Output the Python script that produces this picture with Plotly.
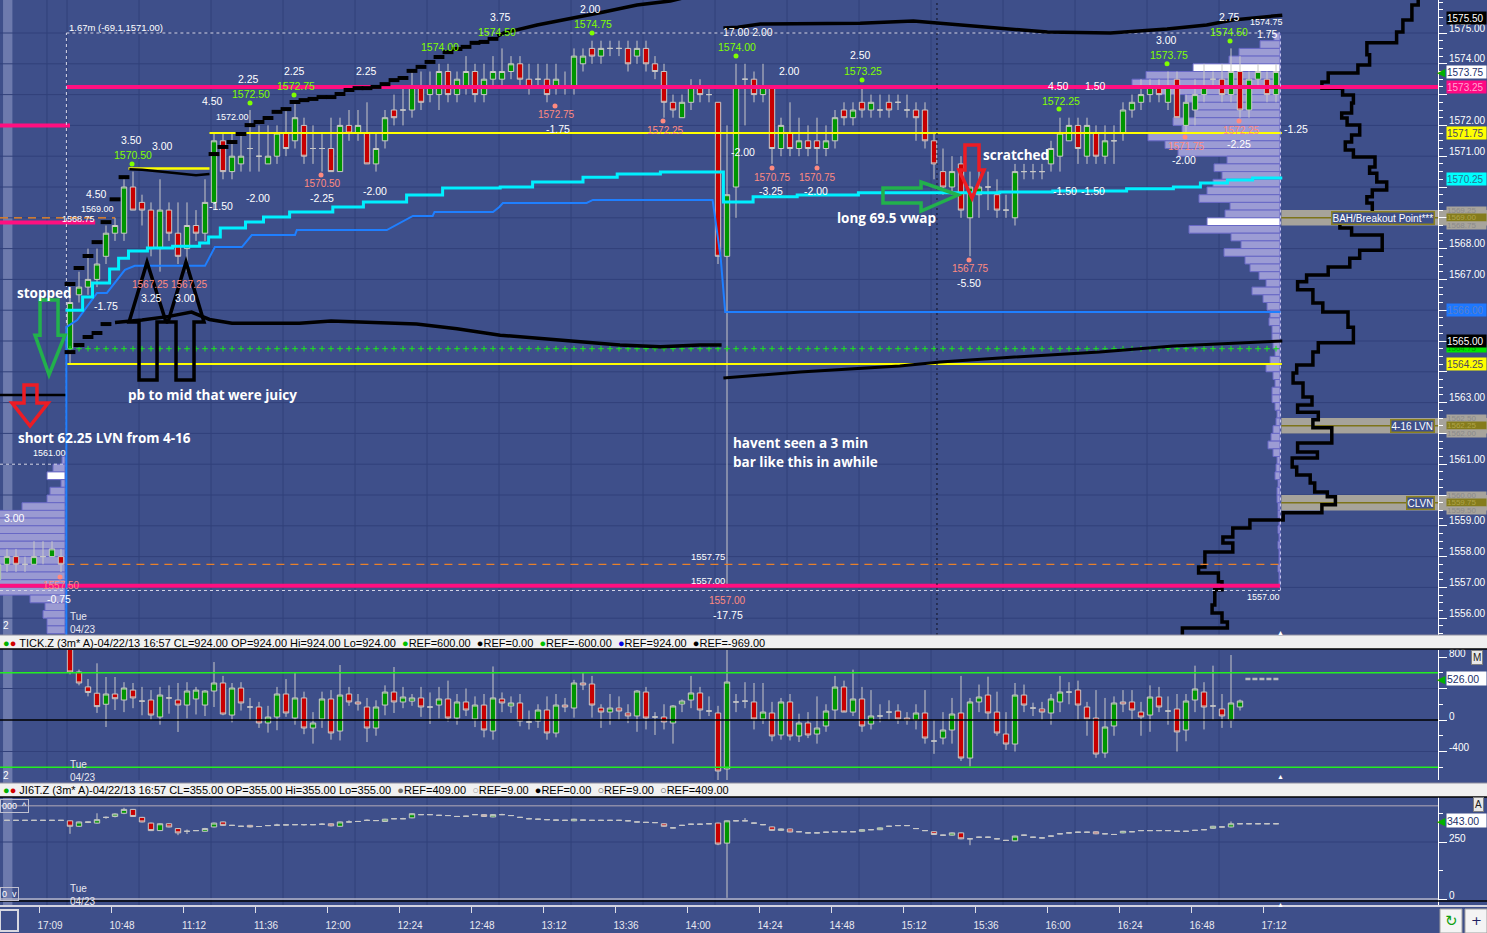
import plotly.graph_objects as go

# ============================ DATA ============================
# --- ES 3-min bars: tail of previous session (negative index) + today's session
prev_idx   = [-8, -7, -6, -5, -4, -3, -2, -1]
prev_open  = [1557.25, 1557.75, 1558.0, 1557.75, 1557.75, 1558.0, 1558.0, 1558.0]
prev_high  = [1557.75, 1558.25, 1558.25, 1558.0, 1558.5, 1558.5, 1558.5, 1558.25]
prev_low   = [1557.0, 1557.5, 1557.5, 1557.5, 1557.75, 1557.75, 1558.0, 1557.5]
prev_close = [1557.75, 1558.0, 1557.75, 1557.75, 1558.0, 1558.0, 1558.25, 1557.75]

es_open = [1564.75, 1566.5, 1566.75, 1567.0, 1567.75, 1568.5, 1568.5, 1570.0, 1569.5, 1569.25,
           1568.0, 1569.25, 1568.5, 1568.0, 1568.75, 1568.5, 1569.5, 1571.5, 1570.5, 1570.75,
           1571.25, 1571.0, 1570.75, 1571.0, 1571.75, 1571.5, 1572.0, 1571.25, 1571.25, 1571.25,
           1570.5, 1572.0, 1571.75, 1571.75, 1570.75, 1571.5, 1572.5, 1572.5, 1572.5, 1573.25,
           1573.0, 1573.0, 1573.75, 1573.0, 1573.25, 1573.75, 1573.0, 1573.5, 1573.5, 1573.75,
           1574.0, 1573.5, 1573.5, 1573.5, 1573.25, 1573.25, 1573.25, 1574.0, 1574.5, 1574.25,
           1574.5, 1574.5, 1574.5, 1574.25, 1574.5, 1574.0, 1573.75, 1572.75, 1572.25, 1572.75,
           1573.25, 1573.0, 1572.75, 1567.75, 1570.0, 1573.5, 1573.5, 1573.0, 1573.25, 1571.25,
           1571.75, 1571.25, 1571.5, 1571.5, 1571.25, 1571.5, 1572.5, 1572.25, 1572.75, 1572.5,
           1572.5, 1572.75, 1572.75, 1572.5, 1572.5, 1572.5, 1571.5, 1570.5, 1570.0, 1570.75,
           1569.0, 1569.75, 1570.0, 1569.75, 1569.25, 1569.0, 1570.5, 1570.5, 1570.5, 1570.75,
           1571.0, 1571.5, 1572.0, 1571.0, 1571.75, 1571.0, 1571.5, 1571.75, 1572.5, 1572.75,
           1573.0, 1573.25, 1572.75, 1573.5, 1572.0, 1572.5, 1573.0, 1573.5, 1573.5, 1573.0,
           1573.75, 1572.5, 1573.5, 1573.5, 1573.0]
es_high = [1566.5, 1567.25, 1568.0, 1568.0, 1568.75, 1569.0, 1570.25, 1570.5, 1569.75, 1569.5,
           1570.25, 1569.5, 1569.5, 1569.5, 1569.25, 1570.25, 1571.75, 1571.75, 1571.75, 1571.75,
           1572.5, 1572.0, 1572.0, 1572.0, 1572.5, 1572.75, 1572.25, 1572.0, 1571.75, 1572.25,
           1572.25, 1572.5, 1572.5, 1572.75, 1571.75, 1572.5, 1573.0, 1573.25, 1573.75, 1573.75,
           1573.75, 1574.0, 1574.0, 1573.75, 1574.25, 1574.0, 1574.0, 1574.25, 1574.5, 1574.25,
           1574.25, 1574.0, 1574.0, 1574.0, 1574.0, 1573.75, 1574.5, 1574.5, 1574.75, 1574.75,
           1574.75, 1574.75, 1574.75, 1574.75, 1574.75, 1574.25, 1574.0, 1573.0, 1573.0, 1573.5,
           1573.5, 1573.25, 1572.75, 1572.0, 1574.0, 1574.0, 1573.75, 1574.0, 1573.25, 1572.25,
           1572.75, 1572.25, 1572.0, 1572.25, 1572.0, 1572.5, 1572.75, 1572.75, 1573.25, 1573.0,
           1573.0, 1573.0, 1573.0, 1573.0, 1572.75, 1572.75, 1571.75, 1571.25, 1571.0, 1571.0,
           1570.5, 1571.25, 1570.5, 1570.25, 1569.75, 1570.75, 1570.75, 1570.75, 1570.75, 1571.5,
           1572.25, 1572.25, 1572.25, 1572.25, 1572.0, 1572.0, 1572.0, 1572.75, 1573.0, 1573.5,
           1573.5, 1573.5, 1573.75, 1573.75, 1573.0, 1573.5, 1574.0, 1573.75, 1574.0, 1574.5,
           1574.25, 1573.75, 1574.0, 1573.75, 1574.0]
es_low = [1564.25, 1566.25, 1566.5, 1566.75, 1567.5, 1568.25, 1568.25, 1569.25, 1568.75, 1567.75,
          1567.25, 1568.25, 1567.5, 1567.25, 1568.25, 1568.25, 1569.25, 1570.25, 1570.25, 1570.5,
          1570.5, 1570.5, 1570.75, 1570.75, 1571.0, 1571.25, 1570.75, 1570.75, 1570.5, 1570.5,
          1570.5, 1571.5, 1571.5, 1570.75, 1570.5, 1571.25, 1572.0, 1572.0, 1572.25, 1572.5,
          1572.75, 1572.5, 1572.75, 1572.75, 1573.0, 1572.75, 1572.75, 1573.25, 1573.25, 1573.5,
          1573.25, 1573.0, 1573.25, 1572.75, 1573.0, 1573.0, 1573.0, 1573.75, 1574.0, 1574.0,
          1574.25, 1574.25, 1573.75, 1574.0, 1573.75, 1573.5, 1572.25, 1572.25, 1572.25, 1572.5,
          1572.75, 1572.75, 1567.5, 1557.0, 1569.0, 1572.0, 1572.75, 1572.75, 1570.75, 1571.0,
          1571.0, 1571.0, 1571.0, 1570.75, 1571.0, 1571.25, 1572.0, 1572.0, 1572.25, 1572.25,
          1572.25, 1572.25, 1572.5, 1572.25, 1571.5, 1571.25, 1570.25, 1569.75, 1569.75, 1569.0,
          1567.75, 1569.0, 1569.25, 1569.0, 1569.0, 1568.75, 1570.25, 1570.25, 1570.25, 1570.5,
          1570.5, 1571.5, 1570.75, 1570.75, 1570.75, 1570.75, 1570.75, 1571.5, 1572.25, 1572.5,
          1572.75, 1572.75, 1572.5, 1572.25, 1571.75, 1572.0, 1572.75, 1573.25, 1572.75, 1572.75,
          1572.25, 1572.25, 1573.25, 1572.75, 1572.75]
es_close = [1566.25, 1566.75, 1567.0, 1567.5, 1568.5, 1568.75, 1570.0, 1569.25, 1569.25, 1568.0,
            1569.25, 1568.5, 1567.75, 1568.75, 1568.5, 1569.5, 1571.5, 1570.5, 1571.0, 1571.0,
            1571.25, 1571.0, 1571.0, 1571.75, 1571.25, 1572.25, 1571.0, 1571.25, 1571.25, 1570.5,
            1572.0, 1571.75, 1572.0, 1570.75, 1571.25, 1572.25, 1572.25, 1572.5, 1573.25, 1572.75,
            1573.25, 1573.75, 1573.0, 1573.5, 1573.75, 1573.0, 1573.5, 1573.75, 1573.75, 1574.0,
            1573.5, 1573.25, 1573.5, 1573.0, 1573.5, 1573.25, 1574.25, 1574.25, 1574.25, 1574.5,
            1574.5, 1574.5, 1574.0, 1574.5, 1574.0, 1573.75, 1572.75, 1572.5, 1572.75, 1573.25,
            1573.0, 1573.0, 1567.75, 1569.75, 1573.25, 1573.5, 1573.0, 1573.25, 1571.25, 1572.0,
            1571.25, 1571.5, 1571.25, 1571.25, 1571.5, 1572.25, 1572.25, 1572.5, 1572.5, 1572.75,
            1572.5, 1572.5, 1572.75, 1572.5, 1572.25, 1571.5, 1570.75, 1570.0, 1570.5, 1569.25,
            1570.0, 1570.0, 1570.0, 1569.25, 1569.25, 1570.5, 1570.5, 1570.5, 1570.5, 1571.25,
            1571.75, 1572.0, 1571.25, 1572.0, 1571.0, 1571.5, 1571.5, 1572.5, 1572.75, 1573.0,
            1573.25, 1573.0, 1573.25, 1572.25, 1572.75, 1573.0, 1573.25, 1573.5, 1573.0, 1573.75,
            1572.5, 1573.5, 1573.75, 1573.0, 1573.75]

# --- NYSE TICK 3-min bars
tick_open = [900, 610, 420, 340, 200, 330, 254, 380, 240, 254,
             38, 280, 254, 190, 267, 190, 368, 470, 63, 406,
             165, 165, -38, 38, 330, 25, 280, -102, 13, 267,
             -140, 330, 229, 165, -102, 190, 355, 229, 240, 280,
             165, 190, 267, 25, 229, 13, 190, -140, 267, 178,
             216, -25, -13, 127, -165, 190, 152, 470, 457, 152,
             101, 152, 89, 51, 355, 38, 38, -38, 203, 254,
             343, 114, 89, -622, 229, 240, 229, 13, 89, -190,
             229, -203, -38, -178, -76, 127, 419, 101, 267, -51,
             51, 101, 114, 25, 0, 89, -267, -229, -127, 89,
             -483, 229, 317, 101, -178, -305, 317, 152, 140, 89,
             229, 355, 381, 165, 25, -419, -76, 229, 229, 101,
             63, 292, 114, 140, -127, 254, 355, 178, 140, 0,
             165]
tick_high = [950, 640, 520, 720, 546, 546, 480, 470, 420, 380,
             420, 440, 470, 480, 420, 380, 736, 560, 470, 480,
             280, 230, 180, 420, 520, 600, 360, 100, 360, 380,
             698, 420, 330, 280, 250, 440, 673, 420, 330, 420,
             350, 420, 500, 330, 400, 300, 330, 680, 350, 300,
             330, 120, 200, 300, 330, 280, 510, 600, 560, 200,
             330, 300, 200, 380, 420, 100, 200, 190, 260, 560,
             420, 300, 180, 900, 330, 480, 470, 470, 230, 280,
             330, 80, 100, 300, 200, 560, 500, 640, 420, 380,
             200, 250, 200, 100, 200, 380, 0, 100, 280, 560,
             280, 450, 550, 360, 100, 470, 450, 220, 230, 330,
             560, 480, 500, 230, 380, 280, 300, 380, 380, 230,
             440, 420, 300, 330, 330, 690, 480, 690, 330, 825,
             260]
tick_low = [580, 440, 300, 90, -89, 127, 100, 150, 60, 0,
            -60, 80, -152, 20, 70, 50, 165, 60, -30, 120,
            0, -100, -160, -130, 40, -60, -180, -300, -100, -250,
            -260, 180, 120, -280, -200, 60, 89, 150, 180, 40,
            -50, 20, -20, -60, 50, -90, -220, -250, 100, 90,
            -80, -120, -100, -250, -220, 100, 30, 380, 30, -100,
            -60, 0, -40, -150, -120, -190, -120, -300, 100, 150,
            0, 50, -900, -800, 100, 150, -120, -50, -270, -250,
            -260, -280, -230, -300, -150, 0, 120, 50, -150, -120,
            -30, 0, -50, -60, -120, -300, -430, -310, -300, -520,
            -590, 100, 0, -200, -380, -400, 100, 50, 0, -60,
            100, 200, 0, -200, -480, -480, -200, 100, 0, -200,
            -150, 100, -60, -400, -270, 100, -120, 0, -100, -100,
            120]
tick_close = [610, 470, 350, 170, 330, 270, 406, 280, 240, 63,
              317, 280, 190, 368, 380, 368, 470, 76, 406, 216,
              165, -38, 38, 330, 89, 280, -102, -38, 267, -165,
              317, 229, 203, -102, 165, 355, 229, 292, 280, 165,
              165, 267, 25, 229, 127, 190, -127, 280, 216, 216,
              -13, -25, 127, -165, 190, 165, 470, 445, 190, 101,
              152, 114, 51, 368, 25, 38, -25, 178, 241, 343,
              127, 114, -648, 482, 229, 240, 13, 101, -203, 229,
              -203, -38, -190, -102, 114, 419, 101, 267, -76, 51,
              51, 101, 13, 0, 89, -229, -267, -127, 76, -483,
              229, 292, 89, -165, -305, 317, 190, 152, 101, 267,
              355, 355, 190, 13, -432, -89, 216, 203, 127, 38,
              292, 165, 114, -152, 241, 394, 165, 178, 51, 216,
              241]

# --- JI6T 3-min bars (previous session tail + today)
ji_prev_idx = [-7, -6, -5, -4, -3, -2, -1]
ji_prev_val = [345, 345, 345, 345, 345, 345, 345]
ji_open = [343, 319, 336, 333, 358, 362, 376, 393, 358, 333,
           300, 330, 309, 297, 300, 297, 316, 338, 323, 319,
           323, 318, 322, 324, 325, 326, 326, 326, 328, 330,
           319, 338, 340, 345, 344, 340, 352, 352, 356, 370,
           370, 367, 366, 362, 363, 370, 370, 360, 370, 366,
           358, 352, 350, 348, 346, 345, 343, 346, 345, 345,
           345, 345, 343, 338, 336, 335, 330, 312, 323, 328,
           328, 330, 333, 245, 343, 343, 333, 326, 316, 301,
           307, 295, 290, 290, 293, 295, 295, 295, 297, 304,
           304, 319, 322, 322, 309, 300, 295, 280, 280, 290,
           264, 271, 271, 264, 257, 255, 280, 271, 268, 276,
           286, 290, 293, 293, 295, 286, 283, 290, 295, 300,
           300, 300, 300, 297, 297, 301, 304, 310, 316, 316,
           330, 330, 330, 330, 330]
ji_high = [345, 340, 340, 376, 362, 376, 400, 395, 360, 335,
           332, 333, 311, 305, 302, 312, 335, 340, 325, 321,
           325, 320, 324, 330, 327, 328, 327, 328, 332, 332,
           340, 345, 342, 349, 346, 352, 354, 356, 376, 372,
           372, 369, 368, 364, 365, 372, 372, 372, 374, 368,
           360, 356, 352, 350, 348, 347, 352, 348, 347, 347,
           347, 347, 345, 340, 338, 337, 332, 314, 325, 330,
           330, 332, 335, 345, 345, 355, 335, 328, 318, 309,
           309, 297, 292, 292, 295, 297, 297, 297, 306, 306,
           314, 321, 324, 324, 311, 302, 297, 282, 292, 292,
           266, 273, 273, 266, 259, 278, 282, 273, 270, 278,
           288, 292, 295, 295, 297, 288, 285, 299, 297, 302,
           302, 302, 302, 299, 299, 303, 306, 321, 318, 340,
           332, 332, 332, 332, 332]
ji_low = [286, 316, 333, 330, 352, 358, 372, 360, 336, 298,
          298, 314, 280, 285, 298, 295, 314, 321, 321, 317,
          314, 316, 320, 320, 323, 324, 322, 324, 326, 318,
          317, 336, 338, 343, 342, 338, 350, 350, 354, 368,
          368, 365, 364, 360, 361, 368, 360, 358, 368, 364,
          356, 350, 348, 346, 344, 343, 341, 344, 343, 343,
          343, 343, 341, 336, 334, 333, 317, 310, 321, 326,
          326, 328, 236, 5, 341, 341, 331, 324, 299, 299,
          292, 293, 288, 288, 291, 293, 293, 293, 295, 302,
          302, 317, 320, 320, 307, 298, 281, 278, 278, 262,
          236, 269, 269, 262, 255, 253, 278, 269, 266, 274,
          284, 288, 291, 291, 284, 284, 281, 288, 293, 298,
          298, 298, 298, 295, 295, 299, 302, 308, 314, 314,
          328, 328, 328, 328, 328]
ji_close = [319, 338, 338, 348, 358, 373, 393, 362, 338, 300,
            330, 316, 290, 297, 300, 309, 333, 323, 323, 319,
            316, 318, 322, 324, 325, 326, 326, 326, 328, 321,
            338, 338, 340, 345, 344, 350, 352, 352, 374, 370,
            370, 367, 366, 362, 363, 370, 362, 370, 370, 366,
            358, 352, 350, 348, 346, 345, 350, 346, 345, 345,
            345, 345, 343, 338, 336, 335, 319, 312, 323, 328,
            328, 330, 241, 343, 343, 343, 333, 326, 301, 307,
            294, 295, 290, 290, 293, 295, 295, 295, 304, 304,
            312, 319, 322, 322, 309, 300, 283, 280, 290, 264,
            264, 271, 271, 264, 257, 276, 280, 271, 268, 276,
            286, 290, 293, 293, 286, 286, 283, 297, 295, 300,
            300, 300, 300, 297, 297, 301, 304, 319, 316, 330,
            330, 330, 330, 330, 330]

# --- indicator lines (bar index, price)
vwap_x = [-0.5, 1.4, 2.5, 4.4, 5.4, 6.5, 8.6, 11.4, 14.4, 15.4, 16.7, 19.5, 21.5, 24.4, 29.2, 32.6,
          37.4, 41.4, 47.8, 51.4, 57.0, 60.8, 65.6, 72.6, 75.9, 80.8, 87.6, 103.3, 109.2, 117.4,
          122.6, 125.6, 128.6, 131.4, 134.7]
vwap_y = [1566.0, 1566.43, 1566.88, 1567.34, 1567.69, 1567.92, 1568.02, 1568.08, 1568.18, 1568.38,
          1568.67, 1568.86, 1569.03, 1569.19, 1569.35, 1569.51, 1569.74, 1569.97, 1570.0, 1570.16,
          1570.32, 1570.42, 1570.49, 1569.51, 1569.68, 1569.74, 1569.81, 1569.84, 1569.87, 1569.94,
          1570.0, 1570.13, 1570.23, 1570.29, 1570.29]
lowband_x = [-0.4, -0.4, 0.8, 3.0, 4.1, 6.1, 7.2, 15.0, 16.1, 19.1, 20.2, 25.0, 25.2, 35.2, 38.1,
             40.3, 40.5, 47.0, 47.7, 48.1, 57.4, 58.1, 71.4, 72.3, 72.8, 134.5]
lowband_y = [1555.4, 1565.45, 1565.68, 1566.56, 1566.56, 1567.31, 1567.44, 1567.44, 1568.05, 1568.05,
             1568.44, 1568.44, 1568.6, 1568.6, 1569.06, 1569.06, 1569.19, 1569.19, 1569.35, 1569.48,
             1569.48, 1569.58, 1569.58, 1567.7, 1565.94, 1565.94]
# upper band: per-bar dashes early in the session, flat stretch, then smooth curve
upper_dash_x = [0, 1, 2, 3, 4, 5, 6, 16, 17, 18, 19, 20, 21, 22, 23, 24, 25, 26, 27, 28, 29, 30, 31,
                32, 33, 34, 35, 36, 37, 38, 39, 40, 41, 42, 43, 44, 45, 46, 47]
upper_dash_y = [1566.85, 1567.37, 1567.76, 1568.21, 1568.86, 1569.6, 1570.32, 1571.07, 1571.3,
                1571.46, 1571.72, 1572.01, 1572.11, 1572.24, 1572.44, 1572.53, 1572.76, 1572.82,
                1572.86, 1572.92, 1572.92, 1573.02, 1573.15, 1573.21, 1573.21, 1573.25, 1573.34,
                1573.47, 1573.54, 1573.77, 1573.9, 1574.06, 1574.22, 1574.38, 1574.48, 1574.55,
                1574.68, 1574.71, 1574.81]
upper_flat_x = [6.6, 8, 10, 12, 14, 15.5]
upper_flat_y = [1570.58, 1570.56, 1570.5, 1570.45, 1570.38, 1570.42]
upper_curve_x = [47.5, 48.2, 51.9, 55.4, 59.3, 63.0, 66.7, 69.0]
upper_curve_y = [1574.9, 1575.0, 1575.26, 1575.45, 1575.68, 1575.91, 1576.04, 1576.2]
upper2_x = [72.6, 74.2, 76.7, 82.6, 87.8, 93.7, 96.7, 99.7, 103.3, 108.6, 115.6, 121.9, 126.3, 129.2, 134.7]
upper2_y = [1575.16, 1575.19, 1575.29, 1575.32, 1575.32, 1575.39, 1575.32, 1575.23, 1575.16, 1575.03,
            1575.0, 1575.13, 1575.26, 1575.42, 1575.58]
lower_dash_x = [0, 1, 2, 3, 4]
lower_dash_y = [1564.64, 1564.87, 1565.13, 1565.26, 1565.55]
lower_x = [5, 6, 8, 11, 13.5, 15.5, 18, 25.5, 29, 38.5, 43, 47.8, 54.4, 61.1, 65.6, 70, 72.4]
lower_y = [1565.6, 1565.62, 1565.68, 1565.8, 1565.94, 1565.7, 1565.58, 1565.58, 1565.65, 1565.55,
           1565.4, 1565.19, 1565.03, 1564.87, 1564.81, 1564.87, 1564.87]
lower2_x = [72.6, 81.1, 92.2, 96.7, 103.3, 114.4, 122.6, 129.2, 134.7]
lower2_y = [1563.8, 1563.99, 1564.19, 1564.32, 1564.45, 1564.64, 1564.84, 1564.94, 1565.0]

# --- today's volume profile (row = price .. price+0.25)
prof_price = [1574.75, 1574.5, 1574.25, 1574.0, 1573.75, 1573.5, 1573.25, 1573.0, 1572.75, 1572.5,
              1572.25, 1572.0, 1571.75, 1571.5, 1571.25, 1571.0, 1570.75, 1570.5, 1570.25, 1570.0,
              1569.75, 1569.5, 1569.25, 1569.0, 1568.75, 1568.5, 1568.25, 1568.0, 1567.75, 1567.5,
              1567.25, 1567.0, 1566.75, 1566.5, 1566.25, 1566.0, 1565.75, 1565.5, 1565.25, 1565.0,
              1564.75, 1564.5, 1564.25, 1564.0, 1563.75, 1563.5, 1563.25, 1563.0, 1562.75, 1562.5,
              1562.25, 1562.0, 1561.75, 1561.5, 1561.25, 1561.0, 1560.75, 1560.5, 1560.25, 1560.0,
              1559.75, 1559.5, 1559.25, 1559.0, 1558.75, 1558.5, 1558.25, 1558.0, 1557.75, 1557.5,
              1557.25, 1557.0]
prof_vol = [6, 20, 41, 51, 87, 134, 148, 120, 95, 87, 85, 107, 98, 132, 115, 102, 53, 66, 58, 67,
            73, 81, 50, 55, 73, 91, 49, 39, 56, 35, 30, 21, 14, 28, 17, 13, 10, 11, 8, 8,
            7, 5, 10, 14, 7, 5, 8, 8, 5, 3, 4, 7, 9, 12, 7, 3, 4, 5, 2, 3,
            3, 2, 2, 1, 2, 1, 2, 1, 1, 2, 1, 1]
prof_white = [1573.75, 1568.75]
# previous session profile
prev_prof_price = [1561.0, 1560.75, 1560.5, 1560.25, 1560.0, 1559.75, 1559.5, 1559.25, 1559.0, 1558.75,
                   1558.5, 1558.25, 1558.0, 1557.75, 1557.5, 1557.25, 1557.0, 1556.75, 1556.5, 1556.25,
                   1556.0, 1555.75, 1555.5]
prev_prof_vol = [3, 12, 18, 4, 15, 18, 43, 90, 95, 100, 105, 100, 110, 105, 100, 95, 90, 85, 35, 20, 22, 18, 18]
prev_prof_white = [1560.5]

# --- composite profile outline (price edges, x position of each step)
comp_edges = [1576.2, 1575.91, 1575.42, 1575.03, 1574.68, 1574.29, 1573.96, 1573.70, 1573.41, 1573.21,
              1572.99, 1572.73, 1572.40, 1572.24, 1572.01, 1571.69, 1571.46, 1571.20, 1570.97, 1570.65,
              1570.45, 1570.16, 1569.90, 1569.68, 1569.48, 1569.16, 1568.67, 1568.44, 1567.95, 1567.69,
              1567.40, 1567.14, 1566.92, 1566.66, 1566.23, 1565.94, 1565.45, 1564.94, 1564.64, 1564.22,
              1563.96, 1563.64, 1563.18, 1562.92, 1562.69, 1562.44, 1562.18, 1561.69, 1561.40, 1561.20,
              1560.91, 1560.65, 1560.39, 1560.10, 1559.94, 1559.68, 1559.42, 1559.19, 1558.93, 1558.64,
              1558.44, 1558.15, 1557.66, 1557.47, 1557.18, 1556.92, 1556.43, 1556.17, 1555.88, 1555.68,
              1555.3]
comp_x = [149.8, 149.1, 148.1, 147.4, 144.1, 144.4, 143.1, 139.8, 139.1, 141.4,
          142.6, 142.4, 141.3, 141.9, 143.3, 142.4, 141.7, 142.6, 145.0, 144.4,
          145.2, 146.3, 144.7, 144.1, 144.7, 141.1, 142.4, 145.8, 143.3, 142.2,
          139.8, 137.4, 136.4, 138.1, 139.2, 142.0, 142.6, 138.7, 138.1, 136.3,
          135.9, 137.0, 138.0, 136.4, 138.7, 138.1, 140.2, 136.4, 138.6, 135.8,
          136.3, 137.8, 138.3, 139.7, 140.6, 139.1, 134.8, 131.1, 129.2, 128.1,
          129.2, 126.1, 125.4, 127.6, 128.0, 127.2, 126.9, 128.0, 128.6, 123.6]

# --- reference price levels
lvl_magenta = 1573.25
lvl_magenta_prev = [1572.0, 1568.85]
lvl_magenta_low = 1557.05
lvl_yellow = [1571.75, 1564.25]
lvl_yellow_short = 1570.6
lvl_open = 1564.75
lvl_orange = [1569.0, 1557.75]
lvl_dash_white = [1575.0, 1556.9]
lvl_prev_black = 1563.25
lvl_prev_1561 = 1561.0
zones = [("BAH/Breakout Point***", 1568.75, 1569.25), ("4-16 LVN", 1562.0, 1562.5), ("CLVN", 1559.5, 1560.0)]

tick_refs = [600, 0, -600]
ji_refs = [409, 0]

# --- axis labels
price_ticks = [1556, 1557, 1558, 1559, 1560, 1561, 1562, 1563, 1564, 1565, 1566, 1567, 1568, 1569,
               1570, 1571, 1572, 1573, 1574, 1575]
price_ticks_hidden = [1573, 1570, 1569, 1566, 1565, 1564, 1562, 1560]   # covered by value boxes
time_labels = ["17:09", "10:48", "11:12", "11:36", "12:00", "12:24", "12:48", "13:12", "13:36",
               "14:00", "14:24", "14:48", "15:12", "15:36", "16:00", "16:24", "16:48", "17:12"]
time_ticks = [-3.44, 4.56, 12.56, 20.56, 28.56, 36.56, 44.56, 52.56, 60.56, 68.56, 76.56, 84.56,
              92.56, 100.56, 108.56, 116.56, 124.56, 132.56]
grid_bars = [-2.56, -0.33, 7.67, 15.67, 23.67, 31.67, 39.67, 47.67, 55.67, 63.67, 71.67, 79.67,
             87.67, 95.67, 103.67, 111.67, 119.67, 127.67]

# right-axis value boxes (price, background, text colour, compact)
axis_boxes = [(1575.50, '#000000', '#ffffff', False), (1573.75, '#ffffff', '#22306a', False),
              (1573.25, '#ff0a84', '#ffa3d1', False), (1571.75, '#ffff00', '#4a4a60', False),
              (1570.25, '#00ffff', '#2a6f90', False), (1569.25, '#a8a49c', '#8a8a8a', True),
              (1569.00, '#857c1c', '#b0a448', True), (1568.75, '#a8a49c', '#8a8a8a', True),
              (1566.00, '#1e78ff', '#5a80c8', False), (1564.75, '#00e600', '#00a000', True),
              (1565.00, '#000000', '#ffffff', False), (1564.25, '#ffff00', '#4a4a60', False),
              (1562.50, '#a8a49c', '#8a8a8a', True), (1562.25, '#857c1c', '#b0a448', True),
              (1562.00, '#a8a49c', '#8a8a8a', True), (1560.00, '#a8a49c', '#8a8a8a', True),
              (1559.75, '#857c1c', '#b0a448', True), (1559.50, '#a8a49c', '#8a8a8a', True)]

# text annotations (text, bar, price)
white_labels = [("3.75", 47.78, 1575.52), ("2.00", 57.78, 1575.78), ("4.50", 2.89, 1569.77),
                ("3.50", 6.78, 1571.53), ("3.00", 10.3, 1571.33), ("4.50", 15.78, 1572.79),
                ("2.25", 19.78, 1573.51), ("2.25", 24.89, 1573.77), ("2.25", 32.89, 1573.77),
                ("-1.75", 4.0, 1566.14), ("3.25", 9.11, 1566.40), ("3.00", 12.78, 1566.40),
                ("-1.50", 16.78, 1569.38), ("-2.00", 20.89, 1569.64), ("-2.25", 28.0, 1569.64),
                ("-2.00", 33.89, 1569.87), ("-1.75", 54.22, 1571.88), ("17.00 2.00", 75.33, 1575.03),
                ("-2.00", 74.78, 1571.14), ("2.00", 79.89, 1573.77), ("2.50", 87.78, 1574.29),
                ("-3.25", 77.89, 1569.87), ("-2.00", 82.89, 1569.87), ("-5.50", 99.89, 1566.88),
                ("4.50", 109.78, 1573.28), ("1.50", 113.89, 1573.28), ("3.00", 121.78, 1574.77),
                ("2.75", 128.78, 1575.52), ("1.75", 133.0, 1574.98), ("-1.50", 110.56, 1569.87),
                ("-1.50", 113.67, 1569.87), ("-2.00", 123.78, 1570.88), ("-2.25", 129.89, 1571.40),
                ("-1.25", 136.22, 1571.88), ("-0.75", -1.22, 1556.62), ("-17.75", 73.11, 1556.10),
                ("3.00", -6.22, 1559.26)]
small_labels = [("1572.00", 18.11, 1572.27), ("1569.00", 3.1, 1569.29), ("1568.75", 0.9, 1568.95),
                ("1561.00", -2.33, 1561.37), ("1557.00", 132.56, 1556.69), ("1574.75", 132.9, 1575.36)]
small_labels_right = [("1557.75", 73.0, 1557.99), ("1557.00", 73.0, 1557.24)]
green_labels = [("1570.50", 7.0, 1571.04), ("1572.50", 20.11, 1573.02), ("1572.75", 25.11, 1573.28),
                ("1574.00", 41.11, 1574.55), ("1574.50", 47.44, 1575.03), ("1574.75", 58.11, 1575.29),
                ("1574.00", 74.11, 1574.55), ("1573.25", 88.11, 1573.77), ("1572.25", 110.11, 1572.79),
                ("1573.75", 122.11, 1574.29), ("1574.50", 128.8, 1575.03)]
green_dots_x = [6.89, 20.0, 24.89, 58.0, 74.0, 88.0, 109.89, 121.89, 128.89]
green_dots_y = [1570.75, 1572.73, 1572.99, 1575.0, 1574.25, 1573.47, 1572.53, 1574.0, 1574.74]
salmon_labels = [("1567.25", 8.95, 1566.82), ("1567.25", 13.25, 1566.82), ("1570.50", 28.0, 1570.10),
                 ("1572.75", 54.11, 1572.34), ("1572.25", 66.2, 1571.85), ("1570.75", 78.11, 1570.32),
                 ("1570.75", 83.11, 1570.32), ("1567.75", 100.11, 1567.34), ("1571.75", 124.11, 1571.33),
                 ("1572.25", 130.2, 1571.85), ("1557.50", -0.89, 1557.05), ("1557.00", 73.11, 1556.56)]
salmon_dots_x = [27.89, 53.89, 65.89, 78.0, 83.0, 99.89, 123.89, 129.89, -1.11]
salmon_dots_y = [1570.39, 1572.63, 1572.14, 1570.62, 1570.62, 1567.63, 1571.62, 1572.14, 1557.34]
notes = [("stopped", -2.78, 1566.56, "center"), ("pb to mid that were juicy", 15.78, 1563.25, "center"),
         ("short 62.25 LVN from 4-16", 3.83, 1561.85, "center"), ("havent seen a 3 min", 73.44, 1561.69, "left"),
         ("bar like this in awhile", 73.44, 1561.07, "left"), ("long 69.5 vwap", 90.72, 1569.0, "center"),
         ("scratched", 105.06, 1571.04, "center")]

# ============================ STYLE / LAYOUT ============================
W, H = 1487, 933
BG = '#3e4f8a'
GRID = '#31407a'
FONT = 'Liberation Sans'
GREEN_C = '#009600'
RED_C = '#c80000'
WICK = '#c8c8c8'
X_RANGE = [-70 / 9, (W - 70) / 9]
AXIS_X = (1438 - 70) / 9          # bar coordinate of the right price scale
PROF_RIGHT = (1280 - 70) / 9      # right edge of today's profile
PREV_PROF_RIGHT = (65 - 70) / 9
PX_PER_BAR = 9.0
DASH_HALF = 0.6


def py(pix):
    return 1 - pix / H


PRICE_DOM = [py(635), 1.0]
TICK_DOM = [py(780), py(650)]
JI_DOM = [py(905), py(797)]
PRICE_RANGE = [1575 - 602 / 30.8, 1575 + 33 / 30.8]
TICK_RANGE = [(720 - 780) / 0.07875, (720 - 650) / 0.07875]
JI_RANGE = [(899 - 905) / 0.228, (899 - 797) / 0.228]

fig = go.Figure()


def line(xs, ys, color, width, yaxis='y', dash=None, shape='linear'):
    fig.add_trace(go.Scatter(x=xs, y=ys, mode='lines', yaxis=yaxis, xaxis='x', hoverinfo='skip',
                             line=dict(color=color, width=width, dash=dash, shape=shape), showlegend=False))


def dashes(xs, ys, color, width):
    sx, sy = [], []
    for x, y in zip(xs, ys):
        sx += [x - DASH_HALF, x + DASH_HALF, None]
        sy += [y, y, None]
    line(sx, sy, color, width)


# ---- volume profiles
fig.add_trace(go.Bar(orientation='h', y=[p + 0.125 for p in prof_price],
                     x=[-v / PX_PER_BAR for v in prof_vol], base=PROF_RIGHT, width=0.25,
                     marker=dict(color=['#ffffff' if p in prof_white else '#9c9cd4' for p in prof_price],
                                 line=dict(color='#6868c6', width=1)),
                     xaxis='x', yaxis='y', hoverinfo='skip', showlegend=False))
fig.add_trace(go.Bar(orientation='h', y=[p + 0.125 for p in prev_prof_price],
                     x=[-v / PX_PER_BAR for v in prev_prof_vol], base=PREV_PROF_RIGHT, width=0.25,
                     marker=dict(color=['#ffffff' if p in prev_prof_white else '#9a9ad2' for p in prev_prof_price],
                                 line=dict(color='#6868c6', width=1)),
                     xaxis='x', yaxis='y', hoverinfo='skip', showlegend=False))

# ---- composite profile outline
cx, cy = [], []
for i, xv in enumerate(comp_x):
    cx += [xv, xv]
    cy += [comp_edges[i], comp_edges[i + 1]]
line(cx, cy, '#000000', 3.5)

# ---- reference levels (drawn below candles)
line([-0.4, AXIS_X], [lvl_magenta] * 2, '#ff0f80', 4)
line([X_RANGE[0], 0.0], [lvl_magenta_prev[0]] * 2, '#ff0f80', 4)
line([X_RANGE[0], 2.8], [lvl_magenta_prev[1]] * 2, '#ff0f80', 4)
line([X_RANGE[0], PROF_RIGHT], [lvl_magenta_low] * 2, '#ff0f80', 4)
line([15.5, PROF_RIGHT + 0.2], [lvl_yellow[0]] * 2, '#ffff00', 2)
line([-0.4, PROF_RIGHT + 0.2], [lvl_yellow[1]] * 2, '#ffff00', 2)
line([6.5, 15.5], [lvl_yellow_short] * 2, '#ffff00', 2.5)
line([X_RANGE[0], 5.0], [lvl_orange[0]] * 2, '#ff8c1a', 1.2, dash='8px,6px')
line([-0.4, PROF_RIGHT], [lvl_orange[1]] * 2, '#e8802a', 1.2, dash='8px,6px')
line([-0.4, PROF_RIGHT], [lvl_dash_white[0]] * 2, '#d8d8e8', 1, dash='3px,3px')
line([X_RANGE[0], PROF_RIGHT], [lvl_dash_white[1]] * 2, '#d8d8e8', 1, dash='3px,3px')
line([X_RANGE[0], -0.4], [lvl_prev_1561] * 2, '#d8d8e8', 1, dash='3px,3px')
line([-0.4, -0.4], [PRICE_RANGE[0], lvl_dash_white[0]], '#d8d8e8', 1, dash='3px,3px')
line([PROF_RIGHT + 0.05, PROF_RIGHT + 0.05], [lvl_dash_white[1], lvl_dash_white[0]], '#c8c8f0', 1, dash='3px,3px')
line([X_RANGE[0], -0.4], [lvl_prev_black] * 2, '#000000', 2.5)
es_idx = list(range(len(es_open)))
fig.add_trace(go.Scatter(x=es_idx, y=[lvl_open] * len(es_idx), mode='markers',
                         marker=dict(symbol='cross-thin', size=4, line=dict(color='#1ee61e', width=1)),
                         xaxis='x', yaxis='y', hoverinfo='skip', showlegend=False))
line([96.33, 96.33], PRICE_RANGE, '#101020', 1, dash='2px,3px')

# ---- price candles
fig.add_trace(go.Candlestick(x=prev_idx + es_idx, open=prev_open + es_open, high=prev_high + es_high,
                             low=prev_low + es_low, close=prev_close + es_close, xaxis='x', yaxis='y',
                             increasing=dict(fillcolor=GREEN_C, line=dict(color=WICK, width=1)),
                             decreasing=dict(fillcolor=RED_C, line=dict(color=WICK, width=1)),
                             whiskerwidth=0, hoverinfo='skip', showlegend=False))

# ---- indicator bands / vwap (over candles)
line(lowband_x, lowband_y, '#1f7fff', 2)
dashes(upper_dash_x, upper_dash_y, '#000000', 4)
line(upper_flat_x, upper_flat_y, '#000000', 2.5)
line(upper_curve_x, upper_curve_y, '#000000', 3.5)
line(upper2_x, upper2_y, '#000000', 3.5)
dashes(lower_dash_x, lower_dash_y, '#000000', 4)
line(lower_x, lower_y, '#000000', 3.5)
line(lower2_x, lower2_y, '#000000', 3)
line(vwap_x, vwap_y, '#00f0ff', 3, shape='hv')

fig.add_trace(go.Scatter(x=green_dots_x, y=green_dots_y, mode='markers', marker=dict(color='#7fff00', size=5),
                         xaxis='x', yaxis='y', hoverinfo='skip', showlegend=False))
fig.add_trace(go.Scatter(x=salmon_dots_x, y=salmon_dots_y, mode='markers', marker=dict(color='#ff8a80', size=5),
                         xaxis='x', yaxis='y', hoverinfo='skip', showlegend=False))

# ---- TICK panel
line([X_RANGE[0], AXIS_X], [tick_refs[0]] * 2, '#22ee22', 1.5, yaxis='y2')
line([X_RANGE[0], AXIS_X], [tick_refs[2]] * 2, '#22ee22', 1.5, yaxis='y2')
line([X_RANGE[0], AXIS_X], [tick_refs[1]] * 2, '#000000', 1.5, yaxis='y2')
line([130.6, 134.4], [520, 520], '#b8b8c0', 2.5, yaxis='y2', dash='5px,2px')
tick_idx = list(range(len(tick_open)))
fig.add_trace(go.Candlestick(x=tick_idx, open=tick_open, high=tick_high, low=tick_low, close=tick_close,
                             xaxis='x', yaxis='y2',
                             increasing=dict(fillcolor=GREEN_C, line=dict(color=WICK, width=1)),
                             decreasing=dict(fillcolor=RED_C, line=dict(color=WICK, width=1)),
                             whiskerwidth=0, hoverinfo='skip', showlegend=False))

# ---- JI6T panel
line([X_RANGE[0], AXIS_X], [ji_refs[0]] * 2, '#8c8ca8', 1.5, yaxis='y3')
line([X_RANGE[0], AXIS_X], [ji_refs[1]] * 2, '#b4b4c8', 1.5, yaxis='y3')
ji_idx = list(range(len(ji_open)))
fig.add_trace(go.Candlestick(x=ji_prev_idx + ji_idx, open=ji_prev_val + ji_open, high=ji_prev_val + ji_high,
                             low=ji_prev_val + ji_low, close=ji_prev_val + ji_close, xaxis='x', yaxis='y3',
                             increasing=dict(fillcolor=GREEN_C, line=dict(color=WICK, width=1)),
                             decreasing=dict(fillcolor=RED_C, line=dict(color=WICK, width=1)),
                             whiskerwidth=0, hoverinfo='skip', showlegend=False))

# ============================ SHAPES ============================
shapes = []
shapes.append(dict(type='rect', xref='x', yref='paper', x0=-7.44, x1=-6.4, y0=py(905), y1=1,
                   fillcolor='#6d7aad', line=dict(width=0), layer='below'))
for p in price_ticks:
    shapes.append(dict(type='line', xref='x', yref='y', x0=X_RANGE[0], x1=AXIS_X, y0=p, y1=p,
                       line=dict(color=GRID, width=1), layer='below'))
for v in (-400, 400):
    shapes.append(dict(type='line', xref='x', yref='y2', x0=X_RANGE[0], x1=AXIS_X, y0=v, y1=v,
                       line=dict(color=GRID, width=1), layer='below'))
shapes.append(dict(type='line', xref='x', yref='y3', x0=X_RANGE[0], x1=AXIS_X, y0=250, y1=250,
                   line=dict(color=GRID, width=1), layer='below'))
for gb in grid_bars:
    for dom in (PRICE_DOM, TICK_DOM, JI_DOM):
        shapes.append(dict(type='line', xref='x', yref='paper', x0=gb, x1=gb, y0=dom[0], y1=dom[1],
                           line=dict(color=GRID, width=1), layer='below'))
for name, lo, hi in zones:
    shapes.append(dict(type='rect', xref='x', yref='y', x0=PROF_RIGHT + 0.15, x1=X_RANGE[1], y0=lo, y1=hi,
                       fillcolor='#a6a39b', line=dict(width=0), layer='below'))
    shapes.append(dict(type='line', xref='x', yref='y', x0=PROF_RIGHT + 0.15, x1=AXIS_X, y0=(lo + hi) / 2,
                       y1=(lo + hi) / 2, line=dict(color='#7d741a', width=1.5), layer='below'))
for top, bot in ((635, 649), (783, 797)):
    shapes.append(dict(type='rect', xref='paper', yref='paper', x0=0, x1=1, y0=py(bot), y1=py(top),
                       fillcolor='#f0f0f0', line=dict(width=0), layer='above'))
    shapes.append(dict(type='line', xref='paper', yref='paper', x0=0, x1=1, y0=py(bot), y1=py(bot),
                       line=dict(color='#000000', width=1.5), layer='above'))
    shapes.append(dict(type='line', xref='paper', yref='paper', x0=0, x1=1, y0=py(top), y1=py(top),
                       line=dict(color='#9090a0', width=1), layer='above'))
shapes.append(dict(type='line', xref='paper', yref='paper', x0=0, x1=1, y0=py(901), y1=py(901),
                   line=dict(color='#000000', width=1.5), layer='above'))
shapes.append(dict(type='rect', xref='paper', yref='paper', x0=0, x1=18 / W, y0=py(931), y1=py(910),
                   fillcolor='#3e4f8a', line=dict(color='#d8d8e0', width=2), layer='above'))
for x0, x1 in ((1440, 1462), (1465, 1487)):
    shapes.append(dict(type='rect', xref='paper', yref='paper', x0=x0 / W, x1=x1 / W, y0=0, y1=py(909),
                       fillcolor='#f4f4f4', line=dict(color='#a0a0a0', width=1), layer='above'))


def arrow_path(pts):
    return 'M ' + ' L '.join(f'{x},{y}' for x, y in pts) + ' Z'


arrows = [
    ([(-3.33, 1566.33), (-1.33, 1566.33), (-1.33, 1565.19), (-0.56, 1565.19), (-2.33, 1563.90),
      (-3.89, 1565.19), (-3.33, 1565.19)], '#22b14c'),
    ([(-5.11, 1563.57), (-3.67, 1563.57), (-3.67, 1562.99), (-2.44, 1562.99), (-4.44, 1562.24),
      (-6.44, 1562.99), (-5.11, 1562.99)], '#ed1c24'),
    ([(7.67, 1563.73), (9.67, 1563.73), (9.67, 1565.62), (10.67, 1565.62), (8.56, 1567.56),
      (6.56, 1565.62), (7.67, 1565.62)], '#000000'),
    ([(11.78, 1563.73), (13.78, 1563.73), (13.78, 1565.62), (14.89, 1565.62), (12.89, 1567.56),
      (10.89, 1565.62), (11.78, 1565.62)], '#000000'),
    ([(90.33, 1569.97), (94.56, 1569.97), (94.56, 1570.16), (98.67, 1569.74), (94.56, 1569.22),
      (94.56, 1569.48), (90.33, 1569.48)], '#22b14c'),
    ([(99.44, 1571.36), (101.0, 1571.36), (101.0, 1570.55), (101.56, 1570.55), (100.22, 1569.64),
      (98.78, 1570.55), (99.44, 1570.55)], '#ed1c24'),
]
for pts, col in arrows:
    shapes.append(dict(type='path', xref='x', yref='y', path=arrow_path(pts), fillcolor='rgba(0,0,0,0)',
                       line=dict(color=col, width=3.5), layer='above'))

# ============================ ANNOTATIONS ============================
ann = []


def text(t, x, y, color='white', size=10.5, yref='y', xref='x', xanchor='center', family=FONT, **kw):
    ann.append(dict(text=t, x=x, y=y, xref=xref, yref=yref, xanchor=xanchor, yanchor='middle',
                    showarrow=False, font=dict(color=color, size=size, family=family), **kw))


for t, x, y in white_labels:
    text(t, x, y)
for t, x, y in small_labels:
    text(t, x, y, size=9)
for t, x, y in small_labels_right:
    text(t, x, y, size=9.5, xanchor='right')
text("1.67m (-69.1,1571.00)", -0.3, 1575.19, size=9.5, xanchor='left')
for t, x, y in green_labels:
    text(t, x, y, color='#80ff00')
for t, x, y in salmon_labels:
    text(t, x, y, color='#ff8a80', size=10)
for t, x, y, anc in notes:
    text('<b>' + t + '</b>', x, y, size=13.5, xanchor=anc, family='Open Sans')

AX_LBL = 1446 / W
for p, bg, fc, compact in axis_boxes:
    ann.append(dict(text=f'{p:.2f}', x=AX_LBL, y=p, xref='paper', yref='y', xanchor='left', yanchor='middle',
                    showarrow=False, bgcolor=bg, width=39, height=7 if compact else 12, borderpad=0, align='left',
                    font=dict(color=fc, size=8 if compact else 10, family=FONT)))
for name, lo, hi in zones:
    text(name, AXIS_X - 0.35, (lo + hi) / 2, size=10, xanchor='right', bgcolor=BG,
         bordercolor='#8c8220', borderwidth=1.5, borderpad=0)
text('◀', 1441 / W, 1573.75, color='#00b000', size=11, xref='paper', xanchor='center')
ann.append(dict(text='526.00', x=AX_LBL, y=526, xref='paper', yref='y2', xanchor='left', yanchor='middle',
                showarrow=False, bgcolor='#ffffff', width=39, height=13, borderpad=0, align='left',
                font=dict(color='#22306a', size=10.5, family=FONT)))
text('◀', 1441 / W, 526, color='#00b000', size=11, xref='paper', yref='y2')
ann.append(dict(text='343.00', x=AX_LBL, y=343, xref='paper', yref='y3', xanchor='left', yanchor='middle',
                showarrow=False, bgcolor='#ffffff', width=39, height=13, borderpad=0, align='left',
                font=dict(color='#22306a', size=10.5, family=FONT)))
text('◀', 1441 / W, 343, color='#00b000', size=11, xref='paper', yref='y3')
text('M', 1477 / W, py(657), color='#202020', size=10, xref='paper', yref='paper', bgcolor='#e8e8e8',
     bordercolor='#808080', borderwidth=1, borderpad=1)
text('A', 1478 / W, py(804), color='#202020', size=10, xref='paper', yref='paper', bgcolor='#e8e8e8',
     bordercolor='#808080', borderwidth=1, borderpad=1)
for yy in (632, 776, 904):
    text('▲', PROF_RIGHT, py(yy), size=7, yref='paper')
for yy in (623, 771, 895):
    text('Tue<br>04/23', -0.25, py(yy), size=10, yref='paper', xanchor='left', align='left', color='#e8e8f0')
text('2', 0.5 / W, py(625), size=10, xref='paper', yref='paper', xanchor='left')
text('2', 0.5 / W, py(775), size=10, xref='paper', yref='paper', xanchor='left')
text('000  ^', 0, py(806), size=9, xref='paper', yref='paper', xanchor='left', bordercolor='#c0c0d0',
     borderwidth=1, borderpad=1)
text('0  v', 0, py(894), size=9, xref='paper', yref='paper', xanchor='left', bordercolor='#c0c0d0',
     borderwidth=1, borderpad=1)
tick_hdr = ('<span style="color:#00b000">●</span><span style="color:#d00000">●</span> '
            'TICK.Z (3m* A)-04/22/13 16:57 CL=924.00 OP=924.00 Hi=924.00 Lo=924.00  '
            '<span style="color:#00c000">●</span>REF=600.00  <span style="color:#000000">●</span>REF=0.00  '
            '<span style="color:#00c000">●</span>REF=-600.00  <span style="color:#0000e0">●</span>REF=924.00  '
            '<span style="color:#000000">●</span>REF=-969.00')
ji_hdr = ('<span style="color:#00b000">●</span><span style="color:#d00000">●</span> '
          'JI6T.Z (3m* A)-04/22/13 16:57 CL=355.00 OP=355.00 Hi=355.00 Lo=355.00  '
          '<span style="color:#707070">●</span>REF=409.00  <span style="color:#a0a0a0">○</span>REF=9.00  '
          '<span style="color:#000000">●</span>REF=0.00  <span style="color:#606060">○</span>REF=9.00  '
          '<span style="color:#606060">○</span>REF=409.00')
text(tick_hdr, 1 / W, py(642.5), color='#000000', size=11, xref='paper', yref='paper', xanchor='left')
text(ji_hdr, 1 / W, py(790), color='#000000', size=11, xref='paper', yref='paper', xanchor='left')
text('↻', 1451 / W, py(921), color='#10a010', size=15, xref='paper', yref='paper', family='DejaVu Sans')
text('+', 1476 / W, py(920), color='#202060', size=13, xref='paper', yref='paper', family='DejaVu Sans')

# ============================ LAYOUT ============================
AX_POS = 1438 / W
tickfont = dict(size=10, color='white', family=FONT)
price_ticktext = ['' if p in price_ticks_hidden else f'{p:.2f}' for p in price_ticks]
fig.update_layout(
    width=W, height=H, margin=dict(l=0, r=0, t=0, b=0, autoexpand=False),
    paper_bgcolor=BG, plot_bgcolor='rgba(0,0,0,0)', showlegend=False, hovermode=False,
    barmode='overlay', boxgap=0.15,
    shapes=shapes, annotations=ann,
    xaxis=dict(domain=[0, 1], range=X_RANGE, anchor='y3', showgrid=False, zeroline=False,
               rangeslider=dict(visible=False), showline=True, linecolor='#d4d4e0', linewidth=2,
               ticks='outside', ticklen=6, tickcolor='#e0e0e8', tickmode='array', tickvals=time_ticks,
               ticktext=time_labels, tickfont=dict(size=10, color='#e8e8f0', family=FONT),
               ticklabelshift=11, ticklabelstandoff=4, fixedrange=True, automargin=False),
    yaxis=dict(domain=PRICE_DOM, range=PRICE_RANGE, anchor='free', position=AX_POS, side='right',
               showgrid=False, zeroline=False, showline=True, linecolor='white', linewidth=1,
               ticks='outside', ticklen=8, tickcolor='white', tickmode='array', tickvals=price_ticks,
               ticktext=price_ticktext, tickfont=tickfont, ticklabelshift=-5, automargin=False,
               minor=dict(dtick=0.25, tick0=1556, ticks='outside', ticklen=4, tickcolor='white', showgrid=False)),
    yaxis2=dict(domain=TICK_DOM, range=TICK_RANGE, anchor='free', position=AX_POS, side='right',
                showgrid=False, zeroline=False, showline=True, linecolor='white', linewidth=1,
                ticks='outside', ticklen=8, tickcolor='white', tickmode='array',
                tickvals=[-400, 0, 400, 800], ticktext=['-400', '0', '', '800'], tickfont=tickfont,
                ticklabelshift=-4, automargin=False,
                minor=dict(dtick=200, ticks='outside', ticklen=4, tickcolor='white', showgrid=False)),
    yaxis3=dict(domain=JI_DOM, range=JI_RANGE, anchor='free', position=AX_POS, side='right',
                showgrid=False, zeroline=False, showline=True, linecolor='white', linewidth=1,
                ticks='outside', ticklen=8, tickcolor='white', tickmode='array',
                tickvals=[0, 250], ticktext=['0', '250'], tickfont=tickfont, ticklabelshift=-4,
                automargin=False,
                minor=dict(dtick=125, ticks='outside', ticklen=4, tickcolor='white', showgrid=False)),
)

fig.write_html("out.html", include_plotlyjs=True, full_html=True,
               config={'displayModeBar': False, 'staticPlot': True},
               post_script="document.body.style.margin='0';document.body.style.overflow='hidden';")
